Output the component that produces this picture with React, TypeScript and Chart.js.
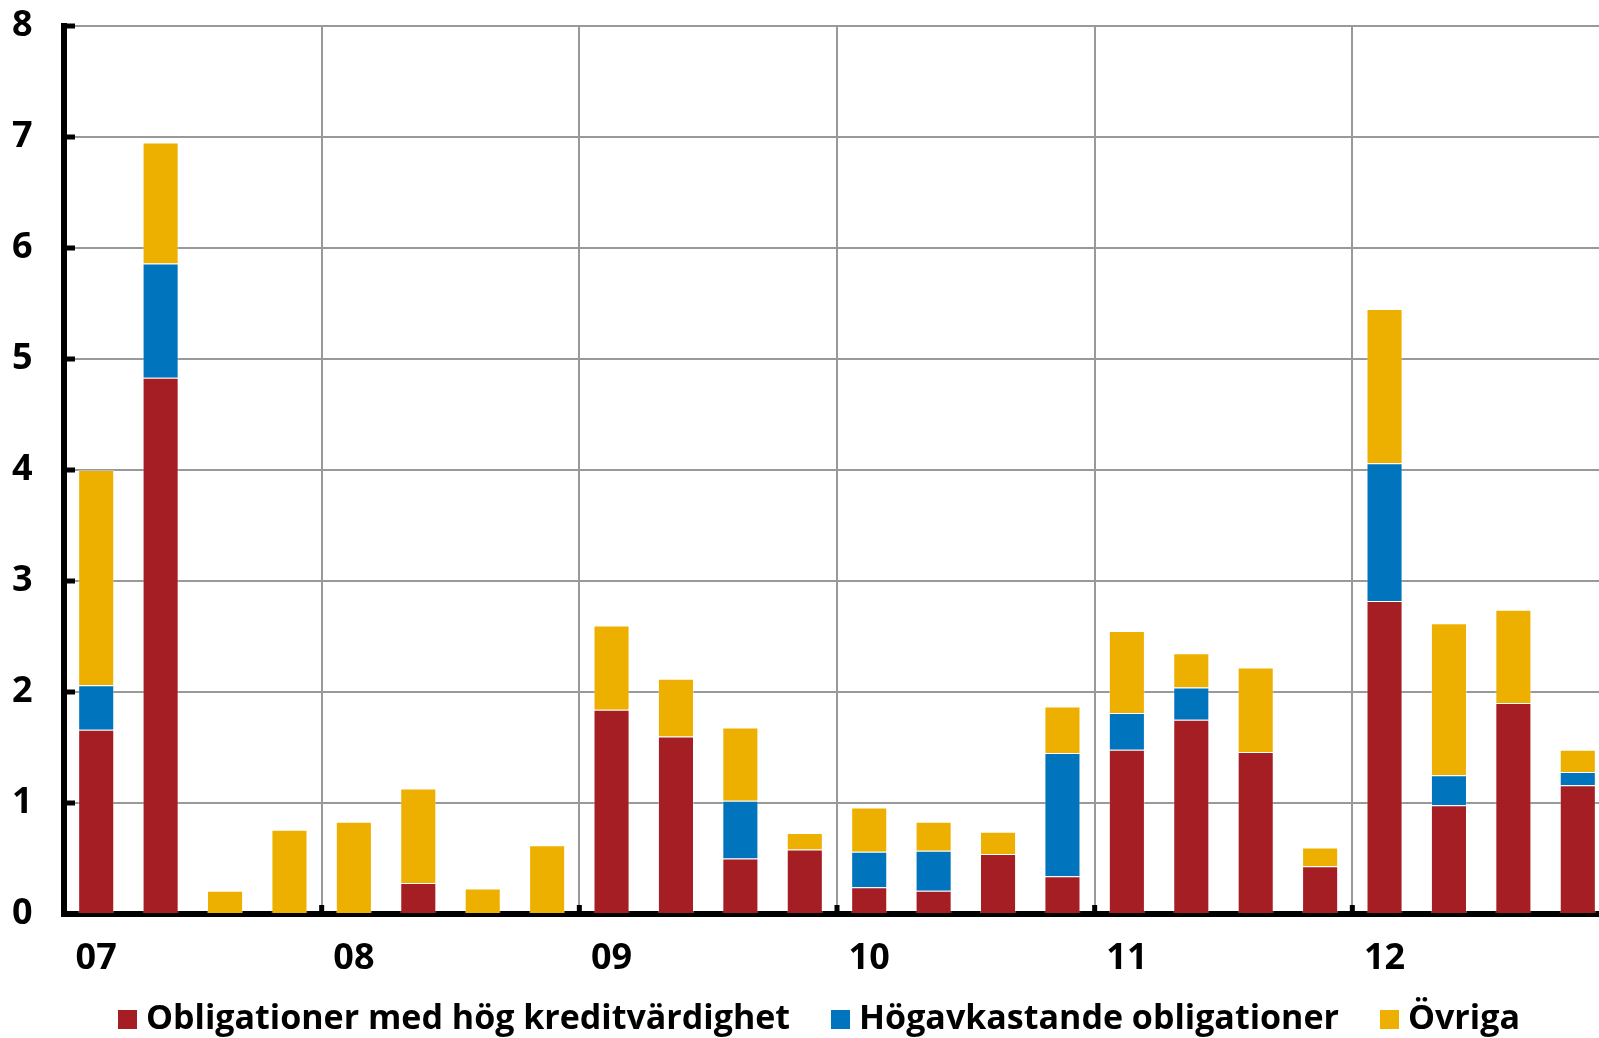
import React, { useEffect, useRef } from "react";
import { Chart, registerables } from "chart.js";

Chart.register(...registerables);

const quarters = [
  "07", "", "", "",
  "08", "", "", "",
  "09", "", "", "",
  "10", "", "", "",
  "11", "", "", "",
  "12", "", "", "",
];

const hogKreditvardighet = [
  1.66, 4.83, 0, 0,
  0, 0.28, 0, 0,
  1.84, 1.6, 0.5, 0.58,
  0.24, 0.21, 0.54, 0.34,
  1.48, 1.75, 1.46, 0.43,
  2.82, 0.98, 1.9, 1.16,
];

const hogavkastande = [
  0.4, 1.03, 0, 0,
  0, 0, 0, 0,
  0, 0, 0.52, 0,
  0.32, 0.36, 0, 1.11,
  0.33, 0.29, 0, 0,
  1.24, 0.27, 0, 0.12,
];

const ovriga = [
  1.94, 1.09, 0.21, 0.76,
  0.83, 0.85, 0.23, 0.62,
  0.76, 0.52, 0.66, 0.15,
  0.4, 0.26, 0.2, 0.42,
  0.74, 0.31, 0.76, 0.17,
  1.39, 1.37, 0.84, 0.2,
];

const yTicks = [0, 1, 2, 3, 4, 5, 6, 7, 8];

const seriesNames = [
  "Obligationer med hög kreditvärdighet",
  "Högavkastande obligationer",
  "Övriga",
];
const seriesColors = ["#A41E24", "#0075BD", "#EEB000"];
const seriesValues = [hogKreditvardighet, hogavkastande, ovriga];

const FONT = "'Open Sans', 'Noto Sans', sans-serif";

const innerTicks = {
  id: "innerTicks",
  afterDraw(chart: any) {
    const ctx = chart.ctx;
    const y = chart.scales.y;
    const area = chart.chartArea;
    ctx.save();
    ctx.fillStyle = "#000";
    yTicks.forEach((v) => {
      const py = y.getPixelForValue(v);
      ctx.fillRect(area.left, py - 2.5, 11, 5);
    });
    const step = (area.right - area.left) / quarters.length;
    for (let i = 4; i < quarters.length; i += 4) {
      const px = area.left + step * i;
      ctx.fillRect(px - 2.5, area.bottom - 9, 5, 9);
    }
    ctx.restore();
  },
};

export default function App() {
  const ref = useRef<HTMLCanvasElement | null>(null);

  useEffect(() => {
    if (!ref.current) return;
    const chart = new Chart(ref.current, {
      type: "bar",
      data: {
        labels: quarters,
        datasets: seriesNames.map((name, i) => ({
          label: name,
          data: seriesValues[i],
          backgroundColor: seriesColors[i],
          borderColor: "rgba(255,255,255,0.35)",
          borderWidth: 1,
        })),
      },
      options: {
        animation: false,
        responsive: false,
        maintainAspectRatio: false,
        devicePixelRatio: 1,
        layout: { padding: { top: 26, right: 2, left: 12, bottom: 0 } },
        datasets: {
          bar: { categoryPercentage: 1, barPercentage: 0.56 },
        },
        plugins: {
          legend: { display: false },
          tooltip: { enabled: false },
        },
        scales: {
          x: {
            stacked: true,
            offset: true,
            grid: {
              offset: true,
              drawTicks: false,
              lineWidth: 2,
              color: (c: any) =>
                c.index % 4 === 0 && c.index > 0 ? "#999999" : "rgba(0,0,0,0)",
            },
            border: { color: "#000", width: 6 },
            ticks: {
              autoSkip: false,
              maxRotation: 0,
              padding: 23,
              color: "#000",
              font: { family: FONT, size: 36, weight: "bold" },
            },
            afterFit: (s: any) => {
              s.height = 124;
            },
          },
          y: {
            stacked: true,
            min: 0,
            max: 8,
            grid: { drawTicks: false, lineWidth: 2, color: "#999999" },
            border: { color: "#000", width: 6 },
            ticks: {
              stepSize: 1,
              padding: 0,
              crossAlign: "far",
              color: "#000",
              font: { family: FONT, size: 36, weight: "bold" },
            },
            afterFit: (s: any) => {
              s.width = 52;
            },
          },
        },
      },
      plugins: [innerTicks],
    });
    return () => chart.destroy();
  }, []);

  return (
    <div
      style={{
        position: "fixed",
        left: 0,
        top: 0,
        width: 1599,
        height: 1038,
        overflow: "hidden",
        background: "#fff",
      }}
    >
      <canvas
        ref={ref}
        width={1612}
        height={1038}
        style={{ display: "block", width: 1612, height: 1038 }}
      />
      <div
        style={{
          position: "absolute",
          left: 118,
          top: 999,
          display: "flex",
          alignItems: "flex-start",
          fontFamily: FONT,
          fontWeight: 700,
          fontSize: 34,
          lineHeight: "34px",
          color: "#000",
          whiteSpace: "nowrap",
        }}
      >
        {seriesNames.map((name, i) => (
          <div
            key={name}
            style={{
              display: "flex",
              alignItems: "flex-start",
              marginRight: i < seriesNames.length - 1 ? 41 : 0,
            }}
          >
            <span
              style={{
                display: "inline-block",
                width: 19,
                height: 19,
                marginTop: 11,
                marginRight: 9,
                background: seriesColors[i],
              }}
            />
            <span>{name}</span>
          </div>
        ))}
      </div>
    </div>
  );
}
